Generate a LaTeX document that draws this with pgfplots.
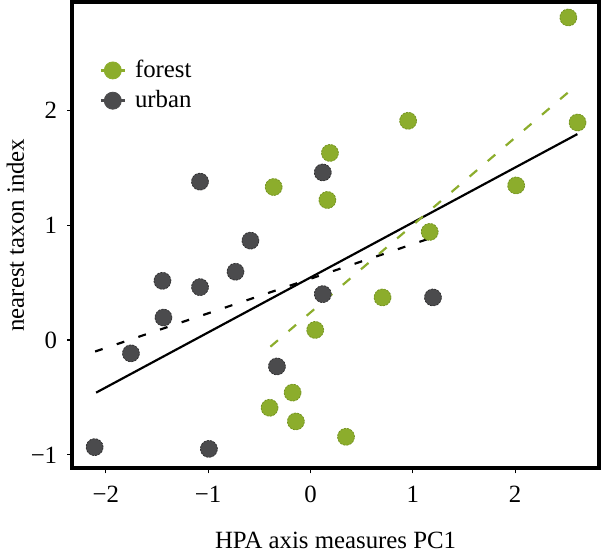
\documentclass[border=0pt]{standalone}
\usepackage{fontspec}
\setmainfont{Liberation Serif}
\usepackage{pgfplots}
\pgfplotsset{compat=1.18}
\definecolor{forestc}{HTML}{8CAD2C}
\definecolor{forestedge}{HTML}{6F8F1C}
\definecolor{urbanc}{HTML}{4B4B4D}
\definecolor{urbanedge}{HTML}{2A2A2B}
\begin{document}
\begin{tikzpicture}
\begin{axis}[
  scale only axis, width=265.5pt, height=235pt,
  xmin=-2.33, xmax=2.82, ymin=-1.118, ymax=2.945,
  axis line style={line width=2pt},
  tick align=outside, tick style={black, line width=0.6pt}, major tick length=2.5pt,
  xtick={-2,-1,0,1,2}, xticklabels={−2,−1,0,1,2},
  ytick={-1,0,1,2}, yticklabels={−1,0,1,2},
  xtick pos=bottom, ytick pos=left,
  tick label style={font=\fontsize{12.5}{14}\selectfont},
  xticklabel style={yshift=-3pt},
  yticklabel style={xshift=-1.5pt},
  label style={font=\fontsize{12.5}{14}\selectfont},
  xlabel={HPA axis measures PC1}, ylabel={nearest taxon index},
  xlabel style={yshift=-8pt},
  ylabel style={yshift=-3.5pt},
  legend style={at={(rel axis cs:0.04,0.893)}, anchor=north west, draw=none, fill=none,
    font=\fontsize{12.5}{14}\selectfont, row sep=1pt},
  legend cell align=left,
]
\addplot[only marks, mark=*, mark size=4.3pt,
  mark options={fill=forestc, draw=forestedge, line width=0.35pt, dash pattern=on 1pt off 0.7pt},
  legend image code/.code={\draw[forestc, line width=1.4pt] (0pt,0pt) -- (12pt,0pt);
    \fill[forestc] (6pt,0pt) circle (4.3pt); \path (15pt,0pt);}]
coordinates {
(2.52,2.81) (2.61,1.895) (0.954,1.91) (0.19,1.63) (0.165,1.22) (-0.36,1.333)
(2.01,1.347) (1.165,0.942) (0.704,0.371) (0.046,0.088) (-0.175,-0.458)
(-0.40,-0.59) (-0.143,-0.709) (0.347,-0.843)
};
\addlegendentry{forest}
\addplot[only marks, mark=*, mark size=4.3pt,
  mark options={fill=urbanc, draw=urbanedge, line width=0.35pt, dash pattern=on 1pt off 0.7pt},
  legend image code/.code={\draw[urbanc, line width=1.4pt] (0pt,0pt) -- (12pt,0pt);
    \fill[urbanc] (6pt,0pt) circle (4.3pt); \path (15pt,0pt);}]
coordinates {
(-1.08,1.38) (0.12,1.46) (-0.587,0.866) (-0.733,0.595) (-1.447,0.516)
(-1.08,0.461) (-1.437,0.196) (-1.755,-0.116) (0.12,0.40) (1.197,0.371)
(-0.328,-0.23) (-2.11,-0.933) (-0.993,-0.948)
};
\addlegendentry{urban}
\addplot[forget plot, black, line width=1.1pt] coordinates {(-2.095,-0.458) (2.608,1.794)};
\addplot[forget plot, black, line width=1.1pt, dash pattern=on 4pt off 7.5pt] coordinates {(-2.105,-0.10) (1.18,0.89)};
\addplot[forget plot, forestc, line width=1.1pt, dash pattern=on 5pt off 7pt] coordinates {(-0.392,-0.058) (2.608,2.226)};
\end{axis}
\end{tikzpicture}
\end{document}
